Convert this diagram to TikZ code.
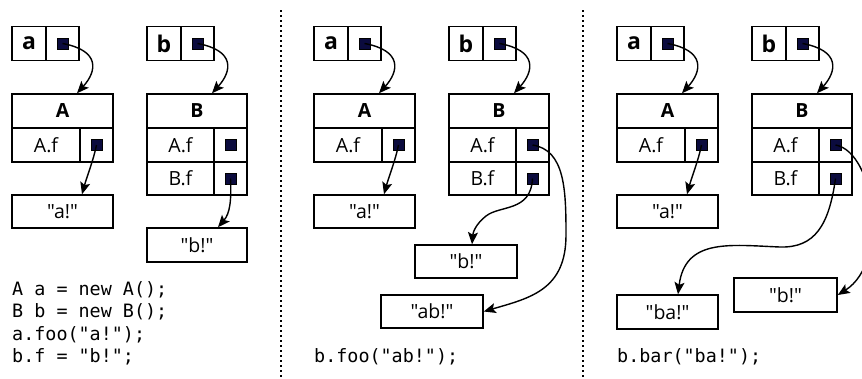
\documentclass[tikz,border=0pt]{standalone}
\usepackage{fontspec}
\usetikzlibrary{arrows.meta}
\newfontfamily\lblfont{Open Sans}
\newfontfamily\codefont{DejaVu Sans Mono}
\definecolor{ptrblue}{HTML}{0B0B3E}

\tikzset{
  cell/.style={draw, line width=1.5pt, minimum height=34pt, inner sep=0pt,
               font=\lblfont\fontsize{19.5}{19.5}\selectfont},
  hdr/.style={cell, font=\lblfont\bfseries\fontsize{19.5}{19.5}\selectfont},
  varname/.style={cell, font=\lblfont\bfseries\fontsize{23}{23}\selectfont},
  ptr/.style={draw, fill=ptrblue, line width=0.8pt, minimum size=11pt, inner sep=0pt},
  ref/.style={line width=1.4pt, -{Stealth[length=12pt, width=10pt, inset=2.5pt]}},
  codeline/.style={font=\codefont\fontsize{18.4}{18.4}\selectfont, anchor=base west, inner sep=0pt},
  divider/.style={line width=1.3pt, dash pattern=on 2pt off 3pt},
}

% Variables a and b, object A with its string, object B (fields A.f and B.f)
% #1 = horizontal offset, #2 = name prefix
\newcommand\heapbase[2]{%
  % variable a
  \node[varname, minimum width=34pt] (#2-an) at ({#1+29},43.5) {a};
  \node[cell, minimum width=33pt] (#2-ac) at ({#1+62.5},43.5) {};
  \node[ptr] (#2-ap) at (#2-ac.center) {};
  % variable b
  \node[varname, minimum width=34pt] (#2-bn) at ({#1+164},43.5) {b};
  \node[cell, minimum width=33pt] (#2-bc) at ({#1+197.5},43.5) {};
  \node[ptr] (#2-bp) at (#2-bc.center) {};
  % object A
  \node[hdr, minimum width=101pt] (#2-Ah) at ({#1+62.5},111) {A};
  \node[cell, minimum width=68pt] (#2-Af) at ({#1+46},145) {A.f};
  \node[cell, minimum width=33pt] (#2-Afc) at ({#1+96.5},145) {};
  \node[ptr] (#2-Afp) at (#2-Afc.center) {};
  \node[cell, minimum width=101pt, minimum height=33pt] (#2-astr) at ({#1+62.5},211.5) {"a!"};
  % object B
  \node[hdr, minimum width=100pt] (#2-Bh) at ({#1+197},111) {B};
  \node[cell, minimum width=67pt] (#2-BAf) at ({#1+180.5},145) {A.f};
  \node[cell, minimum width=33pt] (#2-BAfc) at ({#1+230.5},145) {};
  \node[ptr] (#2-BAfp) at (#2-BAfc.center) {};
  \node[cell, minimum width=67pt, minimum height=33pt] (#2-BBf) at ({#1+180.5},178.5) {B.f};
  \node[cell, minimum width=33pt, minimum height=33pt] (#2-BBfc) at ({#1+230.5},178.5) {};
  \node[ptr] (#2-BBfp) at (#2-BBfc.center) {};
  % references
  \draw[ref] (#2-ap.center) .. controls +(38,7) and +(20,-22) .. ([xshift=14.5pt]#2-Ah.north);
  \draw[ref] (#2-bp.center) .. controls +(38,7) and +(20,-22) .. ([xshift=15pt]#2-Bh.north);
  \draw[ref] (#2-Afp.center) .. controls +(-3,15) and +(5,-18) .. ([xshift=19.5pt]#2-astr.north);
}

\begin{document}
\begin{tikzpicture}[x=1pt, y=-1pt]
  \useasboundingbox (0,0) rectangle (862,378);
  \clip (0,0) rectangle (862,378);
  \fill[white] (0,0) rectangle (862,378);

  % column separators
  \draw[divider] (281,10) -- (281,378);
  \draw[divider] (583,10) -- (583,378);

  % ---- state after the first statements ----
  \heapbase{0}{p1}
  \node[cell, minimum width=100pt] (p1-bstr) at (197,245) {"b!"};
  \draw[ref] (p1-BBfp.center) .. controls +(1,22) and +(12,-14) .. ([xshift=21pt]p1-bstr.north);
  \node[codeline] (p1-c1) at (12,295) {A a = new A();};
  \node[codeline] (p1-c2) at (12,317.5) {B b = new B();};
  \node[codeline] (p1-c3) at (12,340) {a.foo("a!");};
  \node[codeline] (p1-c4) at (12,362.5) {b.f = "b!";};

  % ---- after b.foo ----
  \heapbase{302}{p2}
  \node[cell, minimum width=102pt, minimum height=33pt] (p2-bstr) at (466,261.5) {"b!"};
  \node[cell, minimum width=102pt, minimum height=33pt] (p2-abstr) at (432,311.5) {"ab!"};
  \draw[ref] (p2-BBfp.center) .. controls (531,212) and (500,205) .. (486,216)
                              .. controls (476,224) and (473,232) .. ([xshift=6pt]p2-bstr.north);
  \draw[ref] (p2-BAfp.center) .. controls (565,150) and (566,190) .. (566,235)
                              .. controls (566,290) and (530,298) .. (p2-abstr.east);
  \node[codeline] (p2-c1) at (314,362.5) {b.foo("ab!");};

  % ---- after b.bar ----
  \heapbase{605}{p3}
  \node[cell, minimum width=103pt] (p3-bstr) at (785.5,295) {"b!"};
  \node[cell, minimum width=101pt] (p3-bastr) at (667.5,312) {"ba!"};
  \draw[ref] (p3-BAfp.center) .. controls (875,152) and (890,262) .. (p3-bstr.east);
  \draw[ref] (p3-BBfp.center) .. controls (829,225) and (815,248) .. (780,247)
                              .. controls (730,245) and (685,238) .. ([xshift=10.5pt]p3-bastr.north);
  \node[codeline] (p3-c1) at (617,362.5) {b.bar("ba!");};
\end{tikzpicture}
\end{document}
